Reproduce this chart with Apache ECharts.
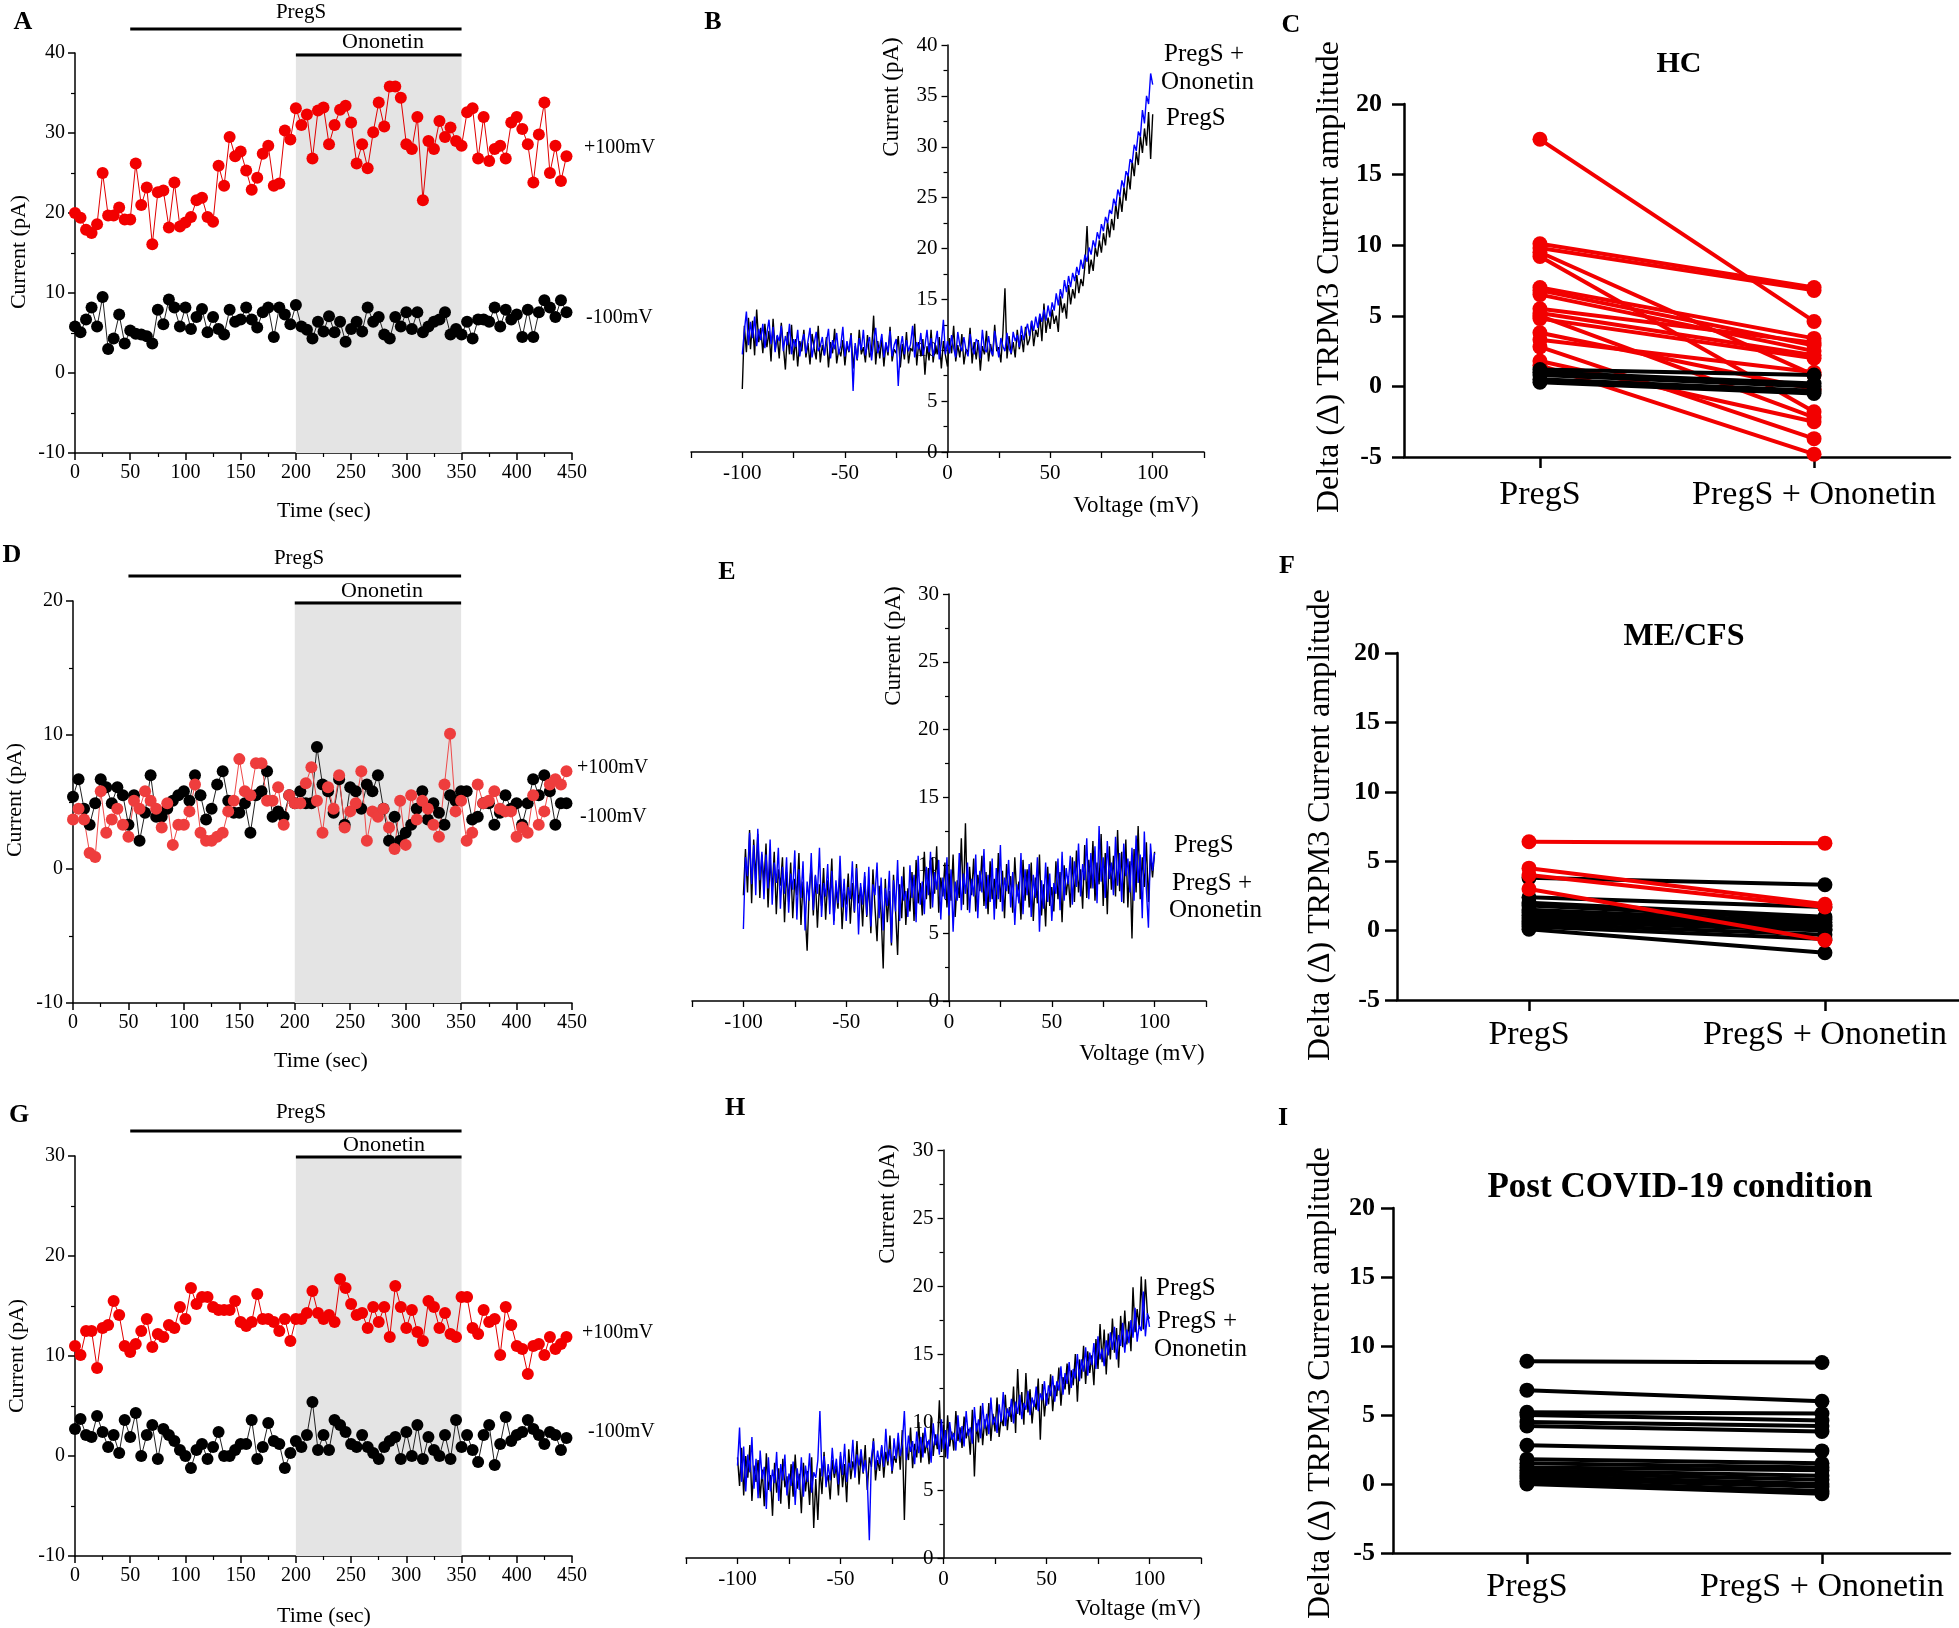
<!DOCTYPE html>
<html><head><meta charset="utf-8">
<script src="https://cdn.jsdelivr.net/npm/echarts@6/dist/echarts.min.js"></script>
<style>html,body{margin:0;padding:0;background:#fff}#c{width:1959px;height:1628px}</style>
</head><body><div id="c"></div>
<script>
const FONT = '"Liberation Serif","Times New Roman",serif';

// ---------- DATA ----------
const time = [0,5,10,15,20,25,30,35,40,45,50,55,60,65,70,75,80,85,90,95,100,105,110,115,120,125,130,135,140,145,150,155,160,165,170,175,180,185,190,195,200,205,210,215,220,225,230,235,240,245,250,255,260,265,270,275,280,285,290,295,300,305,310,315,320,325,330,335,340,345,350,355,360,365,370,375,380,385,390,395,400,405,410,415,420,425,430,435,440,445];
const pregsWindow = [50, 350];
const ononetinWindow = [200, 350];

// Panel A (HC)
const aPos = [20.0,19.4,17.9,17.5,18.6,25.0,19.7,19.7,20.7,19.2, 19.2,26.2,21.0,23.2,16.1,22.6,22.8,18.2,23.8,18.3, 18.8,19.5,21.6,21.9,19.5,18.9,25.9,23.4,29.5,27.1, 27.7,25.3,22.9,24.4,27.4,28.4,23.4,23.7,30.3,29.2, 33.1,31.0,32.3,26.8,32.8,33.2,28.6,31.0,32.9,33.4, 31.3,26.2,28.6,25.6,30.1,33.8,30.8,35.8,35.8,34.4, 28.6,28.0,32.0,21.6,29.0,28.0,31.5,29.5,30.7,29.0, 28.4,32.6,33.1,26.8,32.0,26.5,28.0,28.4,26.8,31.3, 32.0,30.5,28.6,23.8,29.8,33.8,25.0,28.4,24.0,27.1];
const aNeg = [5.8,5.1,6.7,8.2,5.8,9.5,3.0,4.3,7.3,3.7, 5.3,4.9,4.8,4.6,3.7,7.9,6.1,9.2,8.2,5.8, 8.2,5.5,7.0,8.0,5.1,7.0,5.5,4.8,7.9,6.4, 6.7,8.2,6.7,5.7,7.6,8.2,4.5,8.2,7.3,6.1, 8.5,5.8,5.4,4.3,6.4,5.2,7.1,5.1,6.4,3.9, 5.5,6.4,5.2,8.2,6.4,7.0,4.8,4.3,7.0,5.8, 7.6,5.5,7.6,5.1,5.8,6.4,6.7,7.6,4.8,5.5, 4.8,6.4,4.3,6.7,6.7,6.4,8.2,5.8,7.9,6.7, 7.3,4.5,7.9,4.5,7.6,9.1,8.2,7.0,9.1,7.6];
// Panel D (ME/CFS)
const dPos = [3.7,4.5,3.7,1.2,0.9,5.8,2.7,3.7,4.5,3.3, 2.4,5.1,4.5,5.8,5.1,4.5,3.1,4.9,1.8,3.3, 3.3,4.3,6.3,2.7,2.1,2.1,2.4,2.7,4.3,5.1, 8.2,5.8,5.5,7.9,7.9,5.1,5.1,6.1,3.3,5.5, 4.9,4.9,6.4,7.6,5.1,2.7,6.1,4.5,7.0,3.1, 4.3,4.9,7.3,2.1,4.3,3.9,4.5,3.1,1.5,5.1, 1.8,5.5,3.7,5.1,4.5,3.3,2.4,6.3,10.1,4.3, 5.1,2.1,2.7,6.3,4.9,5.1,5.8,4.5,4.3,4.3, 2.4,3.1,2.7,5.5,3.3,4.3,6.3,6.7,6.3,7.3];
const dNeg = [5.4,6.7,4.5,3.3,4.9,6.7,6.1,4.9,6.1,5.5, 3.3,5.5,2.1,4.2,7.0,3.9,3.9,4.5,5.1,5.5, 5.8,5.1,7.0,5.5,3.7,4.5,6.3,7.3,5.1,4.2, 4.2,4.9,2.7,5.5,5.8,7.3,3.9,4.3,3.9,5.5, 4.9,5.8,4.9,4.9,9.1,6.3,5.8,4.2,6.7,3.3, 6.1,5.8,4.5,6.3,5.8,7.0,4.5,2.1,3.9,2.1, 2.7,3.3,4.5,5.8,3.7,4.9,4.2,3.3,5.5,5.1, 5.8,5.8,3.7,3.9,4.9,4.9,3.3,4.2,5.5,4.5, 4.9,3.3,4.9,6.7,5.5,7.0,5.8,3.3,4.9,4.9];
// Panel G (Post COVID-19)
const gPos = [11.0,10.1,12.5,12.5,8.8,12.8,13.1,15.5,14.1,11.0, 10.4,11.2,12.5,13.7,10.9,12.2,11.9,13.1,12.8,14.9, 13.7,16.8,15.2,15.9,15.9,14.9,14.6,14.6,14.6,15.5, 13.4,13.0,13.4,16.2,13.7,13.7,13.4,12.5,13.7,11.5, 13.7,13.7,14.3,16.5,14.3,13.7,14.1,13.4,17.7,16.8, 15.2,14.1,14.3,12.8,14.9,13.4,14.9,11.9,17.0,14.9, 12.8,14.6,12.4,11.5,15.5,14.9,12.8,14.3,12.2,11.9, 15.9,15.9,12.8,12.2,14.6,13.4,13.7,10.1,14.9,13.1, 11.0,10.7,8.2,11.0,11.2,10.1,11.9,10.7,11.2,11.9];
const gNeg = [2.7,3.7,2.1,1.9,4.0,2.4,0.9,2.1,0.3,3.6, 1.9,4.3,0.0,2.1,3.1,-0.3,2.7,2.1,1.5,0.6, 0.0,-1.2,0.6,1.2,-0.3,0.9,2.4,0.0,0.0,0.6, 1.2,1.2,3.6,-0.3,0.9,3.3,1.5,1.2,-1.2,0.3, 1.5,0.9,2.1,5.4,0.6,2.1,0.6,3.6,3.1,2.4, 1.2,0.9,2.1,0.9,0.3,-0.3,0.9,1.5,1.9,-0.3, 2.4,0.0,3.1,-0.3,1.9,0.6,0.0,2.1,-0.3,3.6, 0.9,2.1,0.6,-0.6,2.1,3.1,-0.9,1.2,3.9,1.5, 2.1,2.4,3.6,2.7,2.1,1.2,2.4,2.1,0.6,1.8];

// I-V ramps (mV, 1 mV steps)
const voltage = [-100,-99,-98,-97,-96,-95,-94,-93,-92,-91,-90,-89,-88,-87,-86,-85,-84,-83,-82,-81,-80,-79,-78,-77,-76,-75,-74,-73,-72,-71,-70,-69,-68,-67,-66,-65,-64,-63,-62,-61,-60,-59,-58,-57,-56,-55,-54,-53,-52,-51,-50,-49,-48,-47,-46,-45,-44,-43,-42,-41,-40,-39,-38,-37,-36,-35,-34,-33,-32,-31,-30,-29,-28,-27,-26,-25,-24,-23,-22,-21,-20,-19,-18,-17,-16,-15,-14,-13,-12,-11,-10,-9,-8,-7,-6,-5,-4,-3,-2,-1,0,1,2,3,4,5,6,7,8,9,10,11,12,13,14,15,16,17,18,19,20,21,22,23,24,25,26,27,28,29,30,31,32,33,34,35,36,37,38,39,40,41,42,43,44,45,46,47,48,49,50,51,52,53,54,55,56,57,58,59,60,61,62,63,64,65,66,67,68,69,70,71,72,73,74,75,76,77,78,79,80,81,82,83,84,85,86,87,88,89,90,91,92,93,94,95,96,97,98,99,100];
const bPregS = [6.2,12.4,9.8,13.2,10.1,12.9,9.5,14.0,10.8,12.2, 9.7,12.6,10.3,11.9,8.9,13.1,10.0,11.4,9.2,12.7, 10.4,8.1,11.8,9.6,12.5,9.0,11.1,8.4,10.9,9.9, 12.0,9.3,10.7,8.6,11.6,10.2,9.1,12.4,8.8,10.5, 9.5,11.3,8.3,10.8,9.7,12.1,8.7,10.1,9.4,11.0, 8.5,10.6,9.8,11.7,8.2,10.4,9.0,12.0,9.6,10.3, 8.8,11.5,9.3,10.0,13.4,8.6,10.9,9.2,11.2,8.4, 10.7,9.5,12.3,8.9,10.1,9.7,11.4,8.3,10.6,9.1, 11.8,8.7,10.2,9.9,12.6,8.5,10.8,9.4,11.1,7.6, 10.4,9.0,12.0,8.8,10.6,9.6,11.3,8.2,10.9,9.5, 8.4,11.2,9.7,12.4,8.9,10.5,9.3,11.6,8.6,10.1, 9.8,12.2,8.7,10.8,9.1,11.0,8.0,10.4,9.6,11.9, 8.9,10.6,9.4,12.5,9.9,10.3,8.8,11.7,16.1,9.2, 11.4,9.6,10.8,9.3,12.0,10.1,11.5,9.8,12.3,10.5, 11.1,12.9,10.4,12.0,11.3,13.5,10.9,14.6,11.7,13.2, 12.1,14.0,12.6,13.4,11.8,15.3,13.7,14.6,13.1,16.4, 14.5,16.0,15.1,17.4,15.6,17.0,16.3,18.4,22.2,17.5, 18.9,17.8,20.1,19.2,20.8,19.6,21.5,20.3,22.6,21.1, 22.9,21.8,24.4,22.9,25.1,23.6,26.0,24.7,27.3,25.8, 28.6,27.1,29.5,28.2,31.0,29.4,31.8,30.1,33.4,28.8, 33.2];
const bOnon = [9.6,11.9,13.8,10.5,12.8,11.2,13.3,10.4,12.1,11.0, 12.6,10.2,11.7,13.0,10.6,12.3,9.8,11.5,10.9,12.4, 9.9,11.4,10.5,12.6,9.6,11.1,10.3,12.0,9.4,10.8, 11.6,9.7,10.9,12.2,9.3,10.6,11.8,9.9,10.4,11.3, 9.5,10.8,12.1,9.2,11.0,10.1,11.7,9.6,10.5,12.3, 9.4,10.9,9.9,11.5,6.0,10.7,9.1,11.2,10.0,12.0, 9.5,10.6,11.3,9.0,10.9,12.2,9.7,10.4,11.6,9.3, 10.8,9.8,11.9,9.4,10.5,11.1,6.5,10.2,11.4,9.6, 11.0,9.9,10.6,12.4,9.3,10.8,10.1,11.7,9.5,10.4, 12.0,9.8,11.2,9.4,10.6,11.9,9.1,10.7,13.0,9.6, 10.9,9.7,11.5,10.2,9.3,11.8,10.5,9.9,11.3,10.0, 9.4,11.6,10.3,9.6,11.1,10.8,9.2,12.0,10.1,9.8, 11.4,10.0,9.5,11.9,10.6,9.3,11.2,10.4,9.9,11.7, 10.2,9.7,11.8,10.9,11.5,10.3,12.4,11.0,11.8,12.6, 11.4,12.9,11.9,13.3,12.2,13.6,12.8,14.0,12.9,14.4, 13.3,14.7,13.9,15.6,14.4,16.0,15.1,16.9,15.7,17.3, 16.2,17.6,16.8,18.2,17.4,18.9,18.0,19.4,18.7,20.1, 19.4,20.8,20.1,21.6,20.9,22.4,21.7,23.1,22.5,23.8, 23.4,24.9,24.2,25.8,25.1,26.7,26.0,27.6,27.1,28.8, 28.4,30.2,29.6,31.5,31.0,33.6,32.3,35.0,34.2,37.2, 36.1];
const ePregS = [7.8,11.2,8.0,12.6,7.2,11.9,9.0,12.3,7.6,10.8, 8.7,11.6,6.9,10.4,8.2,11.0,6.4,9.7,8.5,10.6, 5.8,9.5,7.3,10.2,6.1,9.0,7.8,10.9,5.6,8.8, 6.6,3.7,8.1,10.0,6.3,9.2,5.4,8.6,7.0,9.8, 6.0,8.9,7.4,10.5,5.9,8.3,6.8,9.6,5.3,8.0, 7.1,9.4,5.7,8.7,6.5,10.1,7.2,8.4,5.5,9.2, 6.2,8.8,5.0,9.7,6.9,4.4,8.5,6.4,2.4,9.0, 5.8,8.1,4.1,9.3,6.7,3.4,8.6,6.1,9.9,5.6, 8.3,6.6,9.5,5.9,10.4,7.2,8.7,6.3,11.0,7.5, 9.8,6.8,10.6,7.9,11.4,6.5,9.1,7.7,10.2,6.9, 9.4,7.4,10.8,6.2,8.9,7.6,12.0,7.1,13.1,6.7, 9.9,7.8,10.5,6.6,9.3,8.1,10.7,7.0,9.5,6.4, 10.3,7.5,9.0,6.8,10.9,7.3,9.6,6.1,10.1,7.9, 9.2,6.5,10.6,7.7,8.8,6.0,10.4,7.4,9.7,6.9, 10.2,5.9,9.1,7.2,10.8,6.3,8.6,5.5,9.9,7.0, 8.4,6.6,10.3,7.5,9.5,5.8,10.0,7.8,9.2,6.9, 10.6,7.3,11.1,8.0,9.7,6.8,11.5,7.6,10.4,8.3, 11.8,7.4,10.2,8.6,12.3,7.0,10.9,6.4,11.4,8.2, 10.7,7.7,12.6,8.1,11.0,7.2,11.9,6.9,10.3,4.6, 11.2,8.0,12.9,7.5,10.6,8.4,11.7,7.3,10.8,9.1, 11.0];
const eOnon = [5.3,10.6,9.2,12.4,8.6,11.5,7.8,12.7,8.9,11.0, 7.5,10.8,8.3,11.9,7.1,10.2,8.7,11.3,6.8,9.9, 7.9,10.6,6.5,9.4,8.2,11.1,6.0,9.7,7.6,10.3, 5.2,8.8,7.4,10.9,6.7,9.3,7.9,11.3,6.2,8.7, 7.7,10.1,6.4,9.6,5.6,8.9,7.2,10.7,6.9,9.0, 5.9,8.4,7.5,10.3,6.6,9.8,4.9,8.7,7.1,9.5, 6.3,9.9,5.5,8.6,7.8,10.2,6.1,9.1,5.2,8.3, 7.0,9.6,4.3,8.9,6.6,10.4,5.9,9.2,7.4,8.1, 6.2,10.0,7.6,9.3,5.8,10.7,7.1,8.8,6.4,9.9, 7.8,11.0,6.9,9.5,8.2,10.4,6.0,9.1,7.5,10.6, 6.3,9.7,5.1,8.8,7.4,10.9,6.7,9.4,7.9,10.2, 6.5,9.0,7.7,10.8,6.1,9.6,8.0,11.2,6.8,9.3, 7.3,10.5,6.0,9.8,7.5,11.5,6.6,9.1,8.1,10.4, 6.9,9.5,5.6,8.6,7.2,10.9,6.4,9.7,7.8,10.1, 6.2,9.3,7.6,10.6,5.1,8.9,6.8,10.2,7.3,9.4, 5.9,8.7,7.9,10.5,6.7,11.0,7.4,9.8,8.6,10.7, 7.1,10.3,8.4,11.6,7.7,10.1,8.9,12.0,7.5,10.9, 8.3,11.4,7.2,12.9,8.8,10.6,7.6,11.8,9.0,10.2, 7.8,12.1,8.5,10.9,7.3,11.6,9.2,10.5,8.0,11.3, 7.4,12.2,8.7,10.8,6.1,12.5,8.2,5.4,11.6,9.6, 10.9];
const hPregS = [7.4,5.3,8.1,4.6,7.5,5.9,8.3,4.2,6.8,5.6, 7.2,4.4,6.5,3.8,7.7,5.0,6.1,3.1,7.0,4.8, 6.6,4.0,7.3,5.2,6.0,3.6,6.9,4.5,7.6,5.1, 6.2,3.3,7.0,4.9,6.4,3.9,7.4,2.2,5.8,2.8, 6.6,4.7,7.8,5.5,6.1,4.3,7.2,5.9,6.8,4.6, 7.5,5.2,6.9,4.1,8.0,5.8,7.1,6.3,8.6,5.4, 7.7,6.2,8.3,5.0,7.4,6.7,8.8,5.7,7.2,6.4, 8.2,5.9,7.8,6.8,9.0,6.2,7.5,7.0,8.7,6.5, 9.4,2.8,8.1,7.2,9.6,6.6,8.4,7.4,10.0,7.0, 9.2,7.7,8.6,6.9,10.3,7.5,9.1,8.0,11.6,7.8, 9.8,7.4,10.5,8.2,9.3,7.9,10.8,8.6,9.6,8.1, 10.4,8.8,9.5,7.6,10.9,6.0,9.9,8.5,11.2,8.3, 10.2,9.0,11.4,8.6,10.6,9.3,11.8,8.9,10.3,9.7, 12.0,9.4,11.1,10.0,12.6,9.2,13.9,10.5,12.2,9.8, 13.6,10.7,12.4,9.9,11.6,10.9,13.2,8.7,12.8,10.4, 12.1,11.3,13.5,10.8,12.7,11.9,14.0,11.2,13.3,12.4, 14.3,12.0,13.8,12.7,15.0,11.5,14.6,13.2,15.6,12.8, 15.2,13.6,14.9,12.7,16.1,13.9,17.2,14.4,16.8,13.5, 16.5,14.6,17.6,15.1,16.9,14.0,17.8,15.5,18.2,15.7, 17.4,15.2,19.9,16.6,18.3,17.0,20.7,16.8,20.5,17.9, 17.6];
const hOnon = [6.8,9.6,5.6,8.2,4.9,7.6,6.3,8.9,5.1,7.3, 4.4,7.9,5.8,6.7,3.6,7.4,4.9,6.5,5.5,7.8, 4.2,6.9,5.7,7.6,4.6,6.2,5.3,7.1,3.9,6.6, 5.0,7.4,4.5,6.8,5.6,7.7,4.8,6.3,5.9,7.2, 10.8,6.0,7.5,5.2,6.9,5.7,8.1,6.2,7.3,5.4, 7.8,6.1,8.4,5.6,7.0,6.6,8.7,5.9,7.6,6.8, 8.0,6.3,7.2,5.8,1.3,7.4,8.6,6.5,7.9,6.9, 8.3,6.7,9.5,7.1,8.0,6.4,8.8,7.3,9.2,7.5, 8.4,10.8,7.2,9.0,7.8,8.6,6.9,9.3,7.7,8.9, 7.4,9.6,8.1,8.7,7.0,9.9,8.3,9.1,7.6,10.2, 8.0,9.4,7.3,10.0,8.7,9.2,7.9,10.5,8.5,9.7, 8.2,10.8,9.0,9.6,8.4,11.1,9.3,10.2,8.8,11.4, 9.5,10.6,9.1,11.8,9.8,10.4,9.2,11.3,10.0,12.2, 9.7,11.0,10.4,11.7,9.9,11.5,10.6,12.0,10.2,11.4, 10.9,12.3,10.5,11.8,11.1,12.6,10.8,12.1,11.6,13.0, 11.2,12.7,11.9,13.4,11.5,13.0,12.3,14.1,12.0,13.6, 12.8,14.4,12.5,13.9,13.2,15.0,13.0,14.6,13.7,15.5, 13.4,15.1,14.2,15.8,13.9,16.3,14.6,15.4,14.1,16.0, 14.9,16.6,15.3,17.0,14.6,16.4,15.6,17.3,15.1,16.8, 15.8,17.5,16.2,18.4,15.9,17.1,16.7,19.6,16.3,18.0, 17.0];

// Paired Δ amplitudes
const conditions = ['PregS', 'PregS + Ononetin'];
const cRedPre  = [17.5,10.1,9.8,9.5,9.2,7.0,6.8,6.5,5.5,5.2,5.0,4.8,3.8,3.3,2.8,1.8,1.5];
const cRedPost = [4.6,7.0,6.8,0.8,-1.8,3.4,2.9,2.5,3.1,2.2,-2.2,2.0,-0.2,1.0,-3.7,-2.5,-4.8];
const cBlkPre  = [1.2,1.0,0.8,0.5,0.3];
const cBlkPost = [0.8,0.2,0.0,-0.3,-0.5];
const fRedPre  = [6.4,4.5,4.0,3.0];
const fRedPost = [6.3,1.9,1.7,-0.7];
const fBlkPre  = [3.8,2.4,2.0,1.8,1.5,1.3,1.1,0.9,0.7,0.5,0.3,0.1];
const fBlkPost = [3.3,1.7,1.0,0.8,0.6,0.4,0.3,0.1,0.0,-0.3,-0.6,-1.6];
const iBlkPre  = [8.9,6.8,5.2,5.0,4.5,4.2,2.8,1.8,1.5,1.2,1.0,0.8,0.6,0.4,0.2,0.0];
const iBlkPost = [8.8,6.0,5.1,4.6,4.2,3.8,2.4,1.5,1.2,1.0,0.6,0.3,0.0,-0.2,-0.5,-0.7];

// ---------- LAYOUT ----------
const gridBoxes = [
  {left:75,  top:53,   width:497, height:400}, // 0 A
  {left:691, top:45,   width:513, height:407}, // 1 B
  {left:1404,top:104,  width:546, height:353}, // 2 C
  {left:73,  top:601,  width:499, height:402}, // 3 D
  {left:692, top:594,  width:514, height:407}, // 4 E
  {left:1397,top:653,  width:562, height:347}, // 5 F
  {left:75,  top:1156, width:497, height:400}, // 6 G
  {left:686, top:1150, width:515, height:408}, // 7 H
  {left:1393,top:1208, width:557, height:345}  // 8 I
];
// extra grids carrying the I-V current axes at V = 0 (centre of the I-V panels)
[1,4,7].forEach(i => { const b = gridBoxes[i];
  gridBoxes.push({left:b.left + b.width/2, top:b.top, width:b.width/2, height:b.height}); });
const grids = gridBoxes.map(g => Object.assign({containLabel:false, outerBoundsMode:'none'}, g));

const BLACK = '#000';
const thinAxis = {show:true, onZero:false, lineStyle:{color:BLACK, width:1.5}};
const lbl = (size, extra) => Object.assign({color:BLACK, fontFamily:FONT, fontSize:size}, extra||{});

const xAxes = [], yAxes = [];
function timeAxes(gi, ymin, ymax) {
  xAxes[gi] = {type:'value', gridIndex:gi, min:0, max:450, interval:50,
    axisLine:thinAxis, axisTick:{show:true, length:7, lineStyle:{color:BLACK, width:1.5}},
    minorTick:{show:true, splitNumber:2, length:4, lineStyle:{color:BLACK, width:1.2}},
    splitLine:{show:false}, minorSplitLine:{show:false}, axisLabel:lbl(20,{margin:10})};
  yAxes[gi] = {type:'value', gridIndex:gi, min:ymin, max:ymax, interval:10,
    axisLine:thinAxis, axisTick:{show:true, length:7, lineStyle:{color:BLACK, width:1.5}},
    minorTick:{show:true, splitNumber:2, length:4, lineStyle:{color:BLACK, width:1.2}},
    splitLine:{show:false}, minorSplitLine:{show:false}, axisLabel:lbl(20,{margin:10})};
}
function ivAxes(gi, gy, ymax) {
  xAxes[gi] = {type:'value', gridIndex:gi, min:-125, max:125, interval:25,
    axisLine:{show:true, onZero:false, lineStyle:{color:BLACK, width:1.5}},
    axisTick:{show:true, length:6, lineStyle:{color:BLACK, width:1.3}},
    splitLine:{show:false},
    axisLabel:lbl(21,{margin:11, showMinLabel:true, showMaxLabel:true,
      formatter: v => (v % 50 === 0 && Math.abs(v) <= 100) ? String(v) : ''})};
  yAxes[gi] = {type:'value', gridIndex:gi, min:0, max:ymax, show:false, splitLine:{show:false}};
  // visible current axis drawn at V = 0
  xAxes[gy] = {type:'value', gridIndex:gy, min:0, max:1, show:false, splitLine:{show:false}};
  yAxes[gy] = {type:'value', gridIndex:gy, min:0, max:ymax, interval:5,
    axisLine:{show:true, onZero:false, lineStyle:{color:BLACK, width:1.5}},
    axisTick:{show:true, length:6, lineStyle:{color:BLACK, width:1.3}},
    minorTick:{show:true, splitNumber:2, length:4, lineStyle:{color:BLACK, width:1.2}},
    splitLine:{show:false}, minorSplitLine:{show:false}, axisLabel:lbl(21,{margin:10})};
}
function pairAxes(gi, xmin, xmax, ymargin, xmargin) {
  xAxes[gi] = {type:'value', gridIndex:gi, min:xmin, max:xmax,
    axisLine:{show:true, onZero:false, lineStyle:{color:BLACK, width:2.5}},
    axisTick:{show:true, length:11, customValues:[0,1], lineStyle:{color:BLACK, width:2.5}},
    splitLine:{show:false},
    axisLabel:lbl(34,{margin:xmargin, customValues:[0,1], formatter: v => conditions[Math.round(v)] || ''})};
  yAxes[gi] = {type:'value', gridIndex:gi, min:-5, max:20, interval:5,
    axisLine:{show:true, onZero:false, lineStyle:{color:BLACK, width:2.5}},
    axisTick:{show:true, length:12, lineStyle:{color:BLACK, width:2.5}},
    splitLine:{show:false}, axisLabel:lbl(26,{fontWeight:'bold', margin:ymargin})};
}
timeAxes(0, -10, 40); ivAxes(1, 9, 40);  pairAxes(2, -0.496, 1.496, 22, 21);
timeAxes(3, -10, 20); ivAxes(4, 10, 30); pairAxes(5, -0.446, 1.453, 17, 18);
timeAxes(6, -10, 30); ivAxes(7, 11, 30); pairAxes(8, -0.454, 1.434, 18, 17);

// ---------- SERIES ----------
const series = [];
function tcSeries(gi, ys, color, lineColor, shade) {
  const s = {type:'line', xAxisIndex:gi, yAxisIndex:gi, data: time.map((t,i)=>[t, ys[i]]),
    symbol:'circle', symbolSize:12, showSymbol:true, showAllSymbol:true,
    itemStyle:{color:color}, lineStyle:{color:lineColor, width:1}, z:3, animation:false, silent:true};
  if (shade) s.markArea = {silent:true, z:1, itemStyle:{color:'#e4e4e4'},
    data:[[{xAxis:ononetinWindow[0]},{xAxis:ononetinWindow[1]}]]};
  series.push(s);
}
tcSeries(0, aPos, '#f20000', '#e00000', true);
tcSeries(0, aNeg, BLACK, '#222', false);
tcSeries(3, dNeg, BLACK, '#222', true);
tcSeries(3, dPos, '#ee3d3d', '#ee4a4a', false);
tcSeries(6, gPos, '#f20000', '#e00000', true);
tcSeries(6, gNeg, BLACK, '#222', false);

function ivSeries(gi, ys, color) {
  series.push({type:'line', xAxisIndex:gi, yAxisIndex:gi, data: voltage.map((v,i)=>[v, ys[i]]),
    symbol:'none', showSymbol:false, sampling:null, lineStyle:{color:color, width:1.4}, z:3,
    animation:false, silent:true});
}
ivSeries(1, bPregS, BLACK); ivSeries(1, bOnon, '#0000ff');
ivSeries(4, ePregS, BLACK); ivSeries(4, eOnon, '#0000ff');
ivSeries(7, hPregS, BLACK); ivSeries(7, hOnon, '#0000ff');

function pairSeries(gi, pre, post, color, z) {
  pre.forEach((p, i) => series.push({type:'line', xAxisIndex:gi, yAxisIndex:gi,
    data:[[0, p],[1, post[i]]], symbol:'circle', symbolSize:15,
    itemStyle:{color:color}, lineStyle:{color:color, width:4}, z:z, animation:false, silent:true}));
}
pairSeries(2, cRedPre, cRedPost, '#f20000', 3);
pairSeries(2, cBlkPre, cBlkPost, BLACK, 4);
pairSeries(5, fBlkPre, fBlkPost, BLACK, 3);
pairSeries(5, fRedPre, fRedPost, '#f20000', 4);
pairSeries(8, iBlkPre, iBlkPost, BLACK, 3);

const chart = echarts.init(document.getElementById('c'), null, {renderer:'canvas', width:1959, height:1628});
chart.setOption({animation:false, backgroundColor:'#fff', grid:grids, xAxis:xAxes, yAxis:yAxes, series:series});

// ---------- ANNOTATIONS ----------
function txt(s, x, y, size, o) {
  o = o || {};
  const align = o.align || 'center';
  return {type:'text', x:x, y:y, rotation:o.rot ? Math.PI/2 : 0, silent:true, z:10,
    style:{text:s, fill:BLACK, font:(o.bold?'bold ':'') + size + 'px ' + FONT,
      textAlign:align, align:align, textVerticalAlign:'middle', verticalAlign:'middle'}};
}
function bar(gi, win, y) {
  const x1 = chart.convertToPixel({gridIndex:gi}, [win[0], 0])[0];
  const x2 = chart.convertToPixel({gridIndex:gi}, [win[1], 0])[0];
  return {type:'line', silent:true, z:10, shape:{x1:x1, y1:y, x2:x2, y2:y}, style:{stroke:BLACK, lineWidth:3}};
}
const YT = 'Delta (\u0394) TRPM3 Current amplitude';
const g = [
  // A
  txt('A',23,22,26,{bold:true}), bar(0,pregsWindow,29), bar(0,ononetinWindow,55),
  txt('PregS',301,12,21), txt('Ononetin',383,42,22),
  txt('+100mV',584,148,20,{align:'left'}), txt('-100mV',586,318,20,{align:'left'}),
  txt('Time (sec)',324,511,22), txt('Current (pA)',19,252,22,{rot:true}),
  // B
  txt('B',713,22,26,{bold:true}), txt('Current (pA)',892,97,23,{rot:true}), txt('Voltage (mV)',1136,506,23),
  txt('PregS +',1164,54,25,{align:'left'}), txt('Ononetin',1161,82,25,{align:'left'}), txt('PregS',1166,118,25,{align:'left'}),
  // C
  txt('C',1291,25,26,{bold:true}), txt('HC',1679,64,30,{bold:true}), txt(YT,1330,277,32,{rot:true}),
  // D
  txt('D',12,555,26,{bold:true}), bar(3,pregsWindow,576), bar(3,ononetinWindow,603),
  txt('PregS',299,558,21), txt('Ononetin',382,591,22),
  txt('+100mV',577,768,20,{align:'left'}), txt('-100mV',580,817,20,{align:'left'}),
  txt('Time (sec)',321,1061,22), txt('Current (pA)',15,800,22,{rot:true}),
  // E
  txt('E',727,572,26,{bold:true}), txt('Current (pA)',894,646,23,{rot:true}), txt('Voltage (mV)',1142,1054,23),
  txt('PregS',1174,845,25,{align:'left'}), txt('PregS +',1172,883,25,{align:'left'}), txt('Ononetin',1169,910,25,{align:'left'}),
  // F
  txt('F',1287,566,26,{bold:true}), txt('ME/CFS',1684,637,32,{bold:true}), txt(YT,1321,825,32,{rot:true}),
  // G
  txt('G',19,1115,26,{bold:true}), bar(6,pregsWindow,1131), bar(6,ononetinWindow,1157),
  txt('PregS',301,1112,21), txt('Ononetin',384,1145,22),
  txt('+100mV',582,1333,20,{align:'left'}), txt('-100mV',588,1432,20,{align:'left'}),
  txt('Time (sec)',324,1616,22), txt('Current (pA)',17,1356,22,{rot:true}),
  // H
  txt('H',735,1108,26,{bold:true}), txt('Current (pA)',888,1204,23,{rot:true}), txt('Voltage (mV)',1138,1609,23),
  txt('PregS',1156,1288,25,{align:'left'}), txt('PregS +',1157,1321,25,{align:'left'}), txt('Ononetin',1154,1349,25,{align:'left'}),
  // I
  txt('I',1283,1118,26,{bold:true}), txt('Post COVID-19 condition',1680,1188,35,{bold:true}), txt(YT,1321,1383,32,{rot:true})
];
chart.setOption({graphic:{elements:g}});
</script></body></html>
